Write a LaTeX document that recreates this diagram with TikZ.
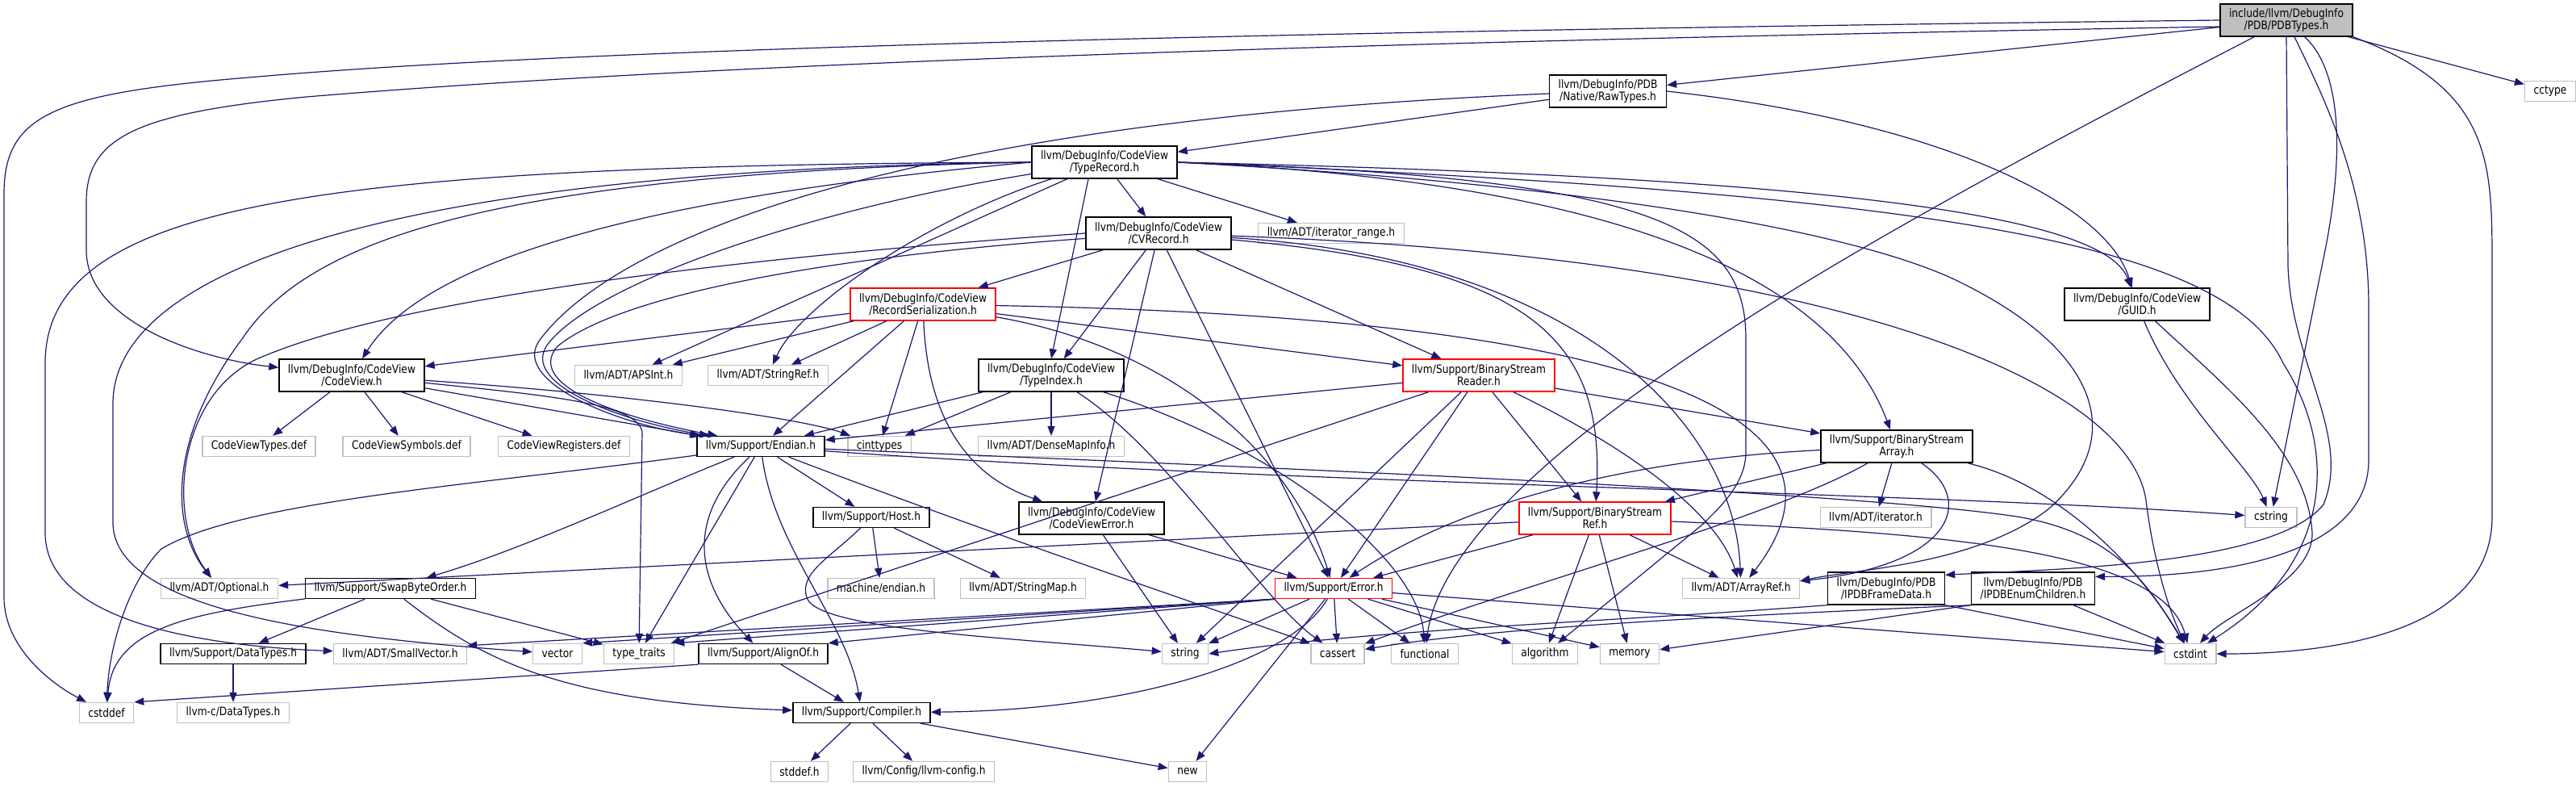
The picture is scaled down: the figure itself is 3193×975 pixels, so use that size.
\documentclass[tikz,border=0pt]{standalone}
\usepackage{fontspec}
\setmainfont{DejaVu Sans}[FakeStretch=0.85]
\usepackage{tikz}
\usetikzlibrary{arrows.meta}

\definecolor{edgeblue}{HTML}{191970}
\definecolor{boxgray}{HTML}{BFBFBF}

\begin{document}
\begin{tikzpicture}[x=0.5pt,y=-0.5pt,
		file/.style={rectangle,draw,align=center,inner xsep=5.5pt,inner ysep=1pt,
			minimum height=12.5pt,line width=0.7pt,font={\fontsize{7.2pt}{7.6pt}\selectfont}},
		hdr/.style={file,draw=black},
		ext/.style={file,draw=boxgray},
		trunc/.style={file,draw=red},
		rootfile/.style={file,draw=black,fill=boxgray},
		two/.style={minimum height=20pt},
		dep/.style={draw=edgeblue,line width=0.6pt,-{Triangle[length=6pt,width=4.6pt]}}]
		
		\useasboundingbox (0,0) rectangle (3193,975);
		
		% Headers, one row per level
		\node[rootfile,two] (root) at (2834,25) {include/llvm/DebugInfo\\/PDB/PDBTypes.h};
		
		\node[hdr,two] (raw) at (1993,113) {llvm/DebugInfo/PDB\\/Native/RawTypes.h};
		\node[ext] (cctype) at (3161,113) {cctype};
		
		\node[hdr,two] (typerec) at (1369,201) {llvm/DebugInfo/CodeView\\/TypeRecord.h};
		
		\node[hdr,two] (cvrec) at (1436,289) {llvm/DebugInfo/CodeView\\/CVRecord.h};
		\node[ext] (iterrange) at (1650,289) {llvm/ADT/iterator\_range.h};
		
		\node[trunc,two] (recser) at (1144,377) {llvm/DebugInfo/CodeView\\/RecordSerialization.h};
		\node[hdr,two] (guid) at (2649,377) {llvm/DebugInfo/CodeView\\/GUID.h};
		
		\node[hdr,two] (codeview) at (436,465) {llvm/DebugInfo/CodeView\\/CodeView.h};
		\node[ext] (apsint) at (779,465) {llvm/ADT/APSInt.h};
		\node[ext] (stringref) at (952,465) {llvm/ADT/StringRef.h};
		\node[hdr,two] (typeindex) at (1303,465) {llvm/DebugInfo/CodeView\\/TypeIndex.h};
		\node[trunc,two] (bsreader) at (1833,465) {llvm/Support/BinaryStream\\Reader.h};
		
		\node[ext] (cvtypes) at (321,553) {CodeViewTypes.def};
		\node[ext] (cvsym) at (504,553) {CodeViewSymbols.def};
		\node[ext] (cvreg) at (699,553) {CodeViewRegisters.def};
		\node[hdr] (endian) at (943,553) {llvm/Support/Endian.h};
		\node[ext] (cinttypes) at (1090,553) {cinttypes};
		\node[ext] (densemap) at (1303,553) {llvm/ADT/DenseMapInfo.h};
		\node[hdr,two] (bsarray) at (2351,553) {llvm/Support/BinaryStream\\Array.h};
		
		\node[hdr] (host) at (1080,641) {llvm/Support/Host.h};
		\node[hdr,two] (cverror) at (1353,642) {llvm/DebugInfo/CodeView\\/CodeViewError.h};
		\node[trunc,two] (bsref) at (1977,642) {llvm/Support/BinaryStream\\Ref.h};
		\node[ext] (iterator) at (2325,641) {llvm/ADT/iterator.h};
		\node[ext] (cstring) at (2815,641) {cstring};
		
		\node[ext] (optional) at (272,729) {llvm/ADT/Optional.h};
		\node[hdr] (swap) at (484,729) {llvm/Support/SwapByteOrder.h};
		\node[ext] (machendian) at (1092,729) {machine/endian.h};
		\node[ext] (stringmap) at (1268,729) {llvm/ADT/StringMap.h};
		\node[trunc] (error) at (1653,729) {llvm/Support/Error.h};
		\node[ext] (arrayref) at (2158,729) {llvm/ADT/ArrayRef.h};
		\node[hdr,two] (frame) at (2338,729) {llvm/DebugInfo/PDB\\/IPDBFrameData.h};
		\node[hdr,two] (enumch) at (2520,729) {llvm/DebugInfo/PDB\\/IPDBEnumChildren.h};
		
		\node[hdr] (datatypes) at (289,810) {llvm/Support/DataTypes.h};
		\node[ext] (smallvec) at (496,810) {llvm/ADT/SmallVector.h};
		\node[ext] (vector) at (691,810) {vector};
		\node[ext] (typetraits) at (792,810) {type\_traits};
		\node[hdr] (alignof) at (946,810) {llvm/Support/AlignOf.h};
		\node[ext] (string) at (1469,810) {string};
		\node[ext] (cassert) at (1658,810) {cassert};
		\node[ext] (functional) at (1766,810) {functional};
		\node[ext] (algorithm) at (1915,810) {algorithm};
		\node[ext] (memory) at (2020,810) {memory};
		\node[ext] (cstdint) at (2715,810) {cstdint};
		
		\node[ext] (cstddef) at (132,883) {cstddef};
		\node[ext] (cdatatypes) at (289,883) {llvm-c/DataTypes.h};
		\node[hdr] (compiler) at (1068,883) {llvm/Support/Compiler.h};
		
		\node[ext] (stddef) at (991,956) {stddef.h};
		\node[ext] (llvmconfig) at (1145,956) {llvm/Config/llvm-config.h};
		\node[ext] (new) at (1472,956) {new};
		
		% PDBTypes.h
		\draw[dep] (root) -- (raw);
		\draw[dep] (root) -- (cctype);
		\draw[dep] (root.west) .. controls (1500,40) and (700,62) .. (320,95) .. controls (70,115) and (5,140) .. (5,240) -- (5,740) .. controls (5,800) and (60,845) .. (cstddef);
		\draw[dep] ([yshift=-4pt]root.west) .. controls (1500,55) and (800,85) .. (380,120) .. controls (170,140) and (107,170) .. (107,250) -- (107,310) .. controls (107,400) and (250,445) .. (codeview);
		\draw[dep] (root) .. controls (2400,250) and (1800,560) .. (functional);
		\draw[dep] (root) .. controls (2905,90) and (2905,200) .. (2880,320) -- (cstring);
		\draw[dep] (root.south) -- (2836,330) .. controls (2840,450) and (2915,540) .. (2880,625) .. controls (2820,700) and (2550,705) .. ([yshift=-2pt]frame.north east);
		\draw[dep] (root) .. controls (2880,120) and (2936,230) .. (2936,380) -- (2936,570) .. controls (2936,690) and (2750,715) .. ([yshift=-3pt]enumch.north east);
		\draw[dep] (root.south east) .. controls (3089,110) and (3089,200) .. (3089,330) -- (3089,640) .. controls (3089,780) and (2900,810) .. (cstdint);
		
		% RawTypes.h
		\draw[dep] (raw) -- (typerec);
		\draw[dep] (raw.east) .. controls (2400,150) and (2610,250) .. (guid);
		\draw[dep] (raw) .. controls (1100,150) and (760,300) .. (670,420) .. controls (630,470) and (760,525) .. ([xshift=3pt]endian.north west);
		
		% TypeRecord.h
		\draw[dep] (typerec) -- (cvrec);
		\draw[dep] (typerec) -- (iterrange);
		\draw[dep] ([xshift=-10pt]typerec.south) -- (typeindex.north);
		\draw[dep] (typerec) -- (apsint);
		\draw[dep] (typerec) .. controls (1150,270) and (990,380) .. (stringref);
		\draw[dep] (typerec.west) .. controls (900,235) and (540,300) .. (codeview);
		\draw[dep] (typerec.west) .. controls (600,215) and (380,300) .. (300,420) .. controls (210,540) and (210,650) .. (optional);
		\draw[dep] (typerec.west) .. controls (400,205) and (56,250) .. (56,450) -- (56,660) .. controls (56,770) and (250,800) .. (smallvec);
		\draw[dep] (typerec.west) .. controls (500,210) and (140,330) .. (140,500) -- (140,650) .. controls (145,760) and (420,790) .. (vector);
		\draw[dep] (typerec) .. controls (1000,260) and (740,350) .. (680,425) .. controls (640,475) and (770,522) .. ([xshift=8pt]endian.north west);
		\draw[dep] (typerec.east) .. controls (2300,220) and (2610,270) .. (guid);
		\draw[dep] (typerec.east) .. controls (2000,225) and (2270,340) .. (bsarray);
		\draw[dep] (typerec.east) .. controls (2050,220) and (2164,280) .. (2164,420) -- (2164,560) .. controls (2164,600) and (2130,630) .. (2110,650) -- (algorithm);
		\draw[dep] (typerec.east) .. controls (2000,230) and (2300,290) .. (2420,345) .. controls (2600,430) and (2640,540) .. (2540,630) .. controls (2450,700) and (2300,705) .. ([yshift=-2pt]arrayref.north east);
		\draw[dep] (typerec.east) .. controls (2400,240) and (2760,300) .. (2830,450) .. controls (2900,560) and (2890,700) .. (cstdint);
		
		% CVRecord.h
		\draw[dep] (cvrec) -- (recser);
		\draw[dep] (cvrec) -- (typeindex);
		\draw[dep] (cvrec) -- (cverror);
		\draw[dep] (cvrec) -- (bsreader);
		\draw[dep] (cvrec) .. controls (1900,330) and (1990,420) .. (bsref);
		\draw[dep] (cvrec) -- (error);
		\draw[dep] (cvrec) .. controls (1950,320) and (2150,520) .. (arrayref);
		\draw[dep] (cvrec) .. controls (2300,320) and (2640,480) .. (2660,620) .. controls (2670,700) and (2690,760) .. (cstdint);
		\draw[dep] (cvrec.west) .. controls (900,320) and (500,370) .. (330,440) .. controls (220,480) and (205,640) .. (optional);
		\draw[dep] (cvrec) .. controls (1000,320) and (760,370) .. (690,430) .. controls (650,480) and (780,520) .. ([xshift=13pt]endian.north west);
		
		% RecordSerialization.h
		\draw[dep] (recser) -- (codeview);
		\draw[dep] (recser) -- (apsint);
		\draw[dep] (recser) -- (stringref);
		\draw[dep] (recser) -- (endian);
		\draw[dep] (recser) -- (cinttypes);
		\draw[dep] (recser) -- (bsreader);
		\draw[dep] (recser) .. controls (1150,520) and (1200,590) .. (cverror);
		\draw[dep] (recser) .. controls (1450,430) and (1600,560) .. (error);
		\draw[dep] (recser) .. controls (1900,390) and (2350,480) .. (arrayref);
		
		% CodeView.h
		\draw[dep] (codeview) -- (cvtypes);
		\draw[dep] (codeview) -- (cvsym);
		\draw[dep] (codeview) -- (cvreg);
		\draw[dep] (codeview) -- (endian);
		\draw[dep] (codeview) .. controls (800,490) and (1000,520) .. (cinttypes);
		\draw[dep] (codeview) .. controls (680,490) and (790,500) .. (796,535) -- (typetraits);
		
		% TypeIndex.h
		\draw[dep] (typeindex) -- (densemap);
		\draw[dep] (typeindex) -- (endian);
		\draw[dep] (typeindex) -- (cinttypes);
		\draw[dep] (typeindex) .. controls (1450,560) and (1560,740) .. (cassert);
		\draw[dep] (typeindex) .. controls (1600,560) and (1760,700) .. (functional);
		
		% CodeViewError.h
		\draw[dep] (cverror) -- (string);
		\draw[dep] (cverror) -- (error);
		
		% BinaryStreamReader.h
		\draw[dep] (bsreader) -- (endian);
		\draw[dep] (bsreader) -- (typetraits);
		\draw[dep] (bsreader) -- (error);
		\draw[dep] (bsreader) -- (string);
		\draw[dep] (bsreader) -- (bsref);
		\draw[dep] (bsreader) -- (bsarray);
		\draw[dep] (bsreader) .. controls (2030,560) and (2130,640) .. (arrayref);
		
		% BinaryStreamArray.h
		\draw[dep] (bsarray) -- (bsref);
		\draw[dep] (bsarray) -- (iterator);
		\draw[dep] (bsarray) .. controls (2450,620) and (2420,700) .. ([yshift=-2pt]arrayref.north east);
		\draw[dep] (bsarray) .. controls (2000,570) and (1800,630) .. (error);
		\draw[dep] (bsarray) .. controls (2200,640) and (1900,720) .. (cassert);
		\draw[dep] (bsarray) .. controls (2550,600) and (2650,700) .. (cstdint);
		
		% BinaryStreamRef.h
		\draw[dep] (bsref) -- (optional);
		\draw[dep] (bsref) -- (error);
		\draw[dep] (bsref) -- (algorithm);
		\draw[dep] (bsref) -- (memory);
		\draw[dep] (bsref) -- (arrayref);
		\draw[dep] (bsref) .. controls (2400,660) and (2680,680) .. (cstdint);
		
		% Endian.h
		\draw[dep] (endian) .. controls (850,640) and (860,720) .. (alignof);
		\draw[dep] (endian) .. controls (960,680) and (1050,770) .. (compiler);
		\draw[dep] (endian) -- (host);
		\draw[dep] (endian) .. controls (800,610) and (650,680) .. (swap);
		\draw[dep] (endian) .. controls (1250,670) and (1550,770) .. (cassert);
		\draw[dep] (endian) .. controls (600,600) and (300,620) .. (200,680) .. controls (160,720) and (135,800) .. (cstddef);
		\draw[dep] (endian) .. controls (1600,580) and (2300,610) .. (2500,640) .. controls (2620,660) and (2660,720) .. (cstdint);
		\draw[dep] (endian) .. controls (1600,600) and (2400,610) .. (cstring);
		\draw[dep] (endian) -- (typetraits);
		
		% Host.h
		\draw[dep] (host) -- (machendian);
		\draw[dep] (host) -- (stringmap);
		\draw[dep] (host) .. controls (1030,690) and (990,710) .. (1000,740) .. controls (1010,780) and (1250,790) .. (string);
		
		% SwapByteOrder.h, DataTypes.h, AlignOf.h
		\draw[dep] (swap) -- (datatypes);
		\draw[dep] (swap) .. controls (230,760) and (140,780) .. (cstddef);
		\draw[dep] (swap) .. controls (600,820) and (700,870) .. (compiler);
		\draw[dep] (swap) -- (typetraits);
		\draw[dep] (datatypes) -- (cdatatypes);
		\draw[dep] (alignof) -- (compiler);
		\draw[dep] (alignof.south west) -- (cstddef.north east);
		
		% Compiler.h
		\draw[dep] (compiler) -- (stddef);
		\draw[dep] (compiler) -- (llvmconfig);
		\draw[dep] (compiler) -- (new);
		
		% Error.h
		\draw[dep] (error.south west) -- ([yshift=-1.5pt]smallvec.north east);
		\draw[dep] (error.south west) -- (vector.north east);
		\draw[dep] (error.south west) -- (typetraits.north east);
		\draw[dep] (error.south west) -- (alignof.north east);
		\draw[dep] (error) .. controls (1600,820) and (1400,880) .. (compiler);
		\draw[dep] (error) -- (string);
		\draw[dep] (error) -- (cassert);
		\draw[dep] (error) -- (functional);
		\draw[dep] (error) -- (algorithm);
		\draw[dep] (error) -- (memory);
		\draw[dep] (error) -- (new);
		\draw[dep] (error) -- (cstdint);
		
		% GUID.h
		\draw[dep] (guid) .. controls (2700,500) and (2790,580) .. (cstring);
		\draw[dep] (guid) .. controls (2760,480) and (2860,560) .. (2866,660) .. controls (2868,720) and (2760,760) .. (cstdint);
		
		% IPDBFrameData.h, IPDBEnumChildren.h
		\draw[dep] (frame.south east) -- (cstdint);
		\draw[dep] (frame.south west) .. controls (2000,770) and (1700,780) .. (string.east);
		\draw[dep] (enumch) -- (cstdint);
		\draw[dep] (enumch.south west) -- (memory);
		\draw[dep] (enumch.south west) .. controls (2100,765) and (1850,778) .. (cassert);
		
	\end{tikzpicture}
\end{document}
